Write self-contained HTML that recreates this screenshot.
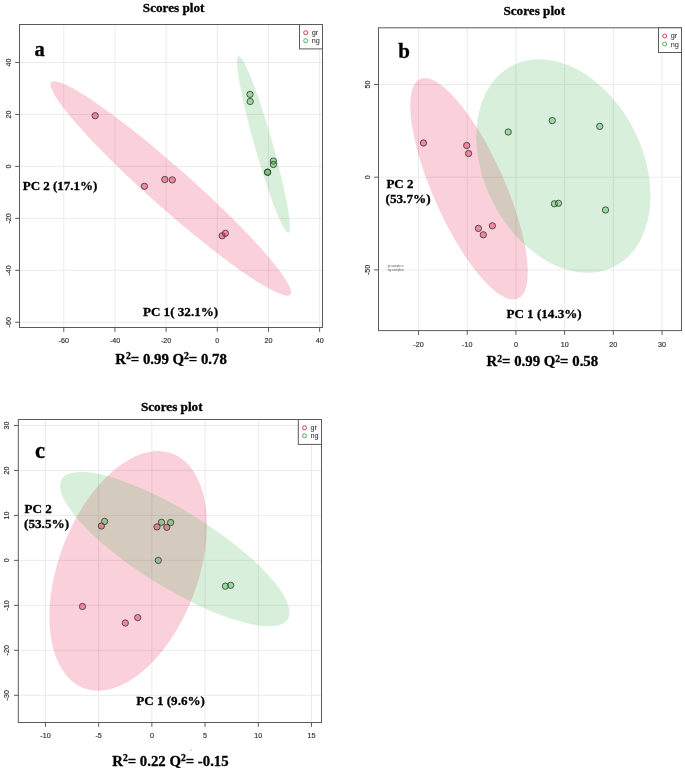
<!DOCTYPE html>
<html><head><meta charset="utf-8"><title>Scores plots</title>
<style>html,body{margin:0;padding:0;background:#fff;} svg{display:block;will-change:transform;}</style>
</head><body>
<svg width="685" height="771" viewBox="0 0 685 771">
<rect width="685" height="771" fill="#fff"/>
<line x1="63.79" y1="24.5" x2="63.79" y2="327.5" stroke="#ebebeb" stroke-width="1"/>
<line x1="114.95" y1="24.5" x2="114.95" y2="327.5" stroke="#ebebeb" stroke-width="1"/>
<line x1="166.12" y1="24.5" x2="166.12" y2="327.5" stroke="#ebebeb" stroke-width="1"/>
<line x1="217.29" y1="24.5" x2="217.29" y2="327.5" stroke="#ebebeb" stroke-width="1"/>
<line x1="268.46" y1="24.5" x2="268.46" y2="327.5" stroke="#ebebeb" stroke-width="1"/>
<line x1="319.63" y1="24.5" x2="319.63" y2="327.5" stroke="#ebebeb" stroke-width="1"/>
<line x1="19.5" y1="322.30" x2="322.5" y2="322.30" stroke="#ebebeb" stroke-width="1"/>
<line x1="19.5" y1="270.34" x2="322.5" y2="270.34" stroke="#ebebeb" stroke-width="1"/>
<line x1="19.5" y1="218.37" x2="322.5" y2="218.37" stroke="#ebebeb" stroke-width="1"/>
<line x1="19.5" y1="166.40" x2="322.5" y2="166.40" stroke="#ebebeb" stroke-width="1"/>
<line x1="19.5" y1="114.43" x2="322.5" y2="114.43" stroke="#ebebeb" stroke-width="1"/>
<line x1="19.5" y1="62.46" x2="322.5" y2="62.46" stroke="#ebebeb" stroke-width="1"/>
<ellipse cx="170.8" cy="188.45" rx="159.9" ry="20.2" transform="rotate(41.6 170.8 188.45)" fill="rgba(230,25,75,0.2)"/>
<ellipse cx="263.5" cy="144.4" rx="91.7" ry="9.0" transform="rotate(74.2 263.5 144.4)" fill="rgba(60,180,75,0.2)"/>
<circle cx="95.2" cy="115.7" r="3.15" fill="rgba(230,25,75,0.4)" stroke="#333" stroke-width="0.8"/>
<circle cx="144.4" cy="186.3" r="3.15" fill="rgba(230,25,75,0.4)" stroke="#333" stroke-width="0.8"/>
<circle cx="164.8" cy="179.5" r="3.15" fill="rgba(230,25,75,0.4)" stroke="#333" stroke-width="0.8"/>
<circle cx="172.3" cy="179.9" r="3.15" fill="rgba(230,25,75,0.4)" stroke="#333" stroke-width="0.8"/>
<circle cx="222.2" cy="235.8" r="3.15" fill="rgba(230,25,75,0.4)" stroke="#333" stroke-width="0.8"/>
<circle cx="225.4" cy="233.3" r="3.15" fill="rgba(230,25,75,0.4)" stroke="#333" stroke-width="0.8"/>
<circle cx="250.0" cy="94.4" r="3.15" fill="rgba(60,180,75,0.4)" stroke="#333" stroke-width="0.8"/>
<circle cx="250.2" cy="101.5" r="3.15" fill="rgba(60,180,75,0.4)" stroke="#333" stroke-width="0.8"/>
<circle cx="273.4" cy="161.1" r="3.15" fill="rgba(60,180,75,0.4)" stroke="#333" stroke-width="0.8"/>
<circle cx="273.4" cy="164.5" r="3.15" fill="rgba(60,180,75,0.4)" stroke="#333" stroke-width="0.8"/>
<circle cx="267.6" cy="172.2" r="3.15" fill="rgba(60,180,75,0.4)" stroke="#333" stroke-width="0.8"/>
<circle cx="267.6" cy="172.2" r="3.15" fill="rgba(60,180,75,0.4)" stroke="#333" stroke-width="0.8"/>
<rect x="19.5" y="24.5" width="303.0" height="303.0" fill="none" stroke="#5a5a5a" stroke-width="1.0"/>
<line x1="63.79" y1="327.5" x2="63.79" y2="331.8" stroke="#5a5a5a" stroke-width="1"/>
<text transform="translate(63.79 343.10) scale(0.92 1)" style="font-family:'Liberation Sans',sans-serif;font-size:7.8px;stroke:#333;stroke-width:0.18px" text-anchor="middle" fill="#333">-60</text>
<line x1="114.95" y1="327.5" x2="114.95" y2="331.8" stroke="#5a5a5a" stroke-width="1"/>
<text transform="translate(114.95 343.10) scale(0.92 1)" style="font-family:'Liberation Sans',sans-serif;font-size:7.8px;stroke:#333;stroke-width:0.18px" text-anchor="middle" fill="#333">-40</text>
<line x1="166.12" y1="327.5" x2="166.12" y2="331.8" stroke="#5a5a5a" stroke-width="1"/>
<text transform="translate(166.12 343.10) scale(0.92 1)" style="font-family:'Liberation Sans',sans-serif;font-size:7.8px;stroke:#333;stroke-width:0.18px" text-anchor="middle" fill="#333">-20</text>
<line x1="217.29" y1="327.5" x2="217.29" y2="331.8" stroke="#5a5a5a" stroke-width="1"/>
<text transform="translate(217.29 343.10) scale(0.92 1)" style="font-family:'Liberation Sans',sans-serif;font-size:7.8px;stroke:#333;stroke-width:0.18px" text-anchor="middle" fill="#333">0</text>
<line x1="268.46" y1="327.5" x2="268.46" y2="331.8" stroke="#5a5a5a" stroke-width="1"/>
<text transform="translate(268.46 343.10) scale(0.92 1)" style="font-family:'Liberation Sans',sans-serif;font-size:7.8px;stroke:#333;stroke-width:0.18px" text-anchor="middle" fill="#333">20</text>
<line x1="319.63" y1="327.5" x2="319.63" y2="331.8" stroke="#5a5a5a" stroke-width="1"/>
<text transform="translate(319.63 343.10) scale(0.92 1)" style="font-family:'Liberation Sans',sans-serif;font-size:7.8px;stroke:#333;stroke-width:0.18px" text-anchor="middle" fill="#333">40</text>
<line x1="15.2" y1="322.30" x2="19.5" y2="322.30" stroke="#5a5a5a" stroke-width="1"/>
<text transform="translate(10.50 322.30) rotate(-90) scale(0.92 1)" style="font-family:'Liberation Sans',sans-serif;font-size:7.8px;stroke:#333;stroke-width:0.18px" text-anchor="middle" fill="#333">-60</text>
<line x1="15.2" y1="270.34" x2="19.5" y2="270.34" stroke="#5a5a5a" stroke-width="1"/>
<text transform="translate(10.50 270.34) rotate(-90) scale(0.92 1)" style="font-family:'Liberation Sans',sans-serif;font-size:7.8px;stroke:#333;stroke-width:0.18px" text-anchor="middle" fill="#333">-40</text>
<line x1="15.2" y1="218.37" x2="19.5" y2="218.37" stroke="#5a5a5a" stroke-width="1"/>
<text transform="translate(10.50 218.37) rotate(-90) scale(0.92 1)" style="font-family:'Liberation Sans',sans-serif;font-size:7.8px;stroke:#333;stroke-width:0.18px" text-anchor="middle" fill="#333">-20</text>
<line x1="15.2" y1="166.40" x2="19.5" y2="166.40" stroke="#5a5a5a" stroke-width="1"/>
<text transform="translate(10.50 166.40) rotate(-90) scale(0.92 1)" style="font-family:'Liberation Sans',sans-serif;font-size:7.8px;stroke:#333;stroke-width:0.18px" text-anchor="middle" fill="#333">0</text>
<line x1="15.2" y1="114.43" x2="19.5" y2="114.43" stroke="#5a5a5a" stroke-width="1"/>
<text transform="translate(10.50 114.43) rotate(-90) scale(0.92 1)" style="font-family:'Liberation Sans',sans-serif;font-size:7.8px;stroke:#333;stroke-width:0.18px" text-anchor="middle" fill="#333">20</text>
<line x1="15.2" y1="62.46" x2="19.5" y2="62.46" stroke="#5a5a5a" stroke-width="1"/>
<text transform="translate(10.50 62.46) rotate(-90) scale(0.92 1)" style="font-family:'Liberation Sans',sans-serif;font-size:7.8px;stroke:#333;stroke-width:0.18px" text-anchor="middle" fill="#333">40</text>
<rect x="299.5" y="24.5" width="23" height="24.4" fill="#fff" stroke="#5a5a5a" stroke-width="1.0"/>
<circle cx="305.7" cy="32.7" r="2.0" fill="none" stroke="#dc3c64" stroke-width="1.0"/>
<circle cx="305.7" cy="40.7" r="2.0" fill="none" stroke="#50b45a" stroke-width="1.0"/>
<text x="311.7" y="35.1" style="font-family:'Liberation Sans',sans-serif;font-size:7.3px" text-anchor="start" fill="#222" >gr</text>
<text x="311.7" y="43.2" style="font-family:'Liberation Sans',sans-serif;font-size:7.3px" text-anchor="start" fill="#222" >ng</text>
<text x="142.8" y="11.6" style="font-family:'Liberation Serif',serif;font-weight:bold;stroke:#000;stroke-width:0.3px;font-size:13.2px" text-anchor="start" fill="#000" >Scores plot</text>
<text x="34.4" y="56.0" style="font-family:'Liberation Serif',serif;font-weight:bold;stroke:#000;stroke-width:0.3px;font-size:20.5px" text-anchor="start" fill="#000" >a</text>
<text x="22.7" y="190.0" style="font-family:'Liberation Serif',serif;font-weight:bold;stroke:#000;stroke-width:0.3px;font-size:13.0px" text-anchor="start" fill="#000" >PC 2 (17.1%)</text>
<text x="142.9" y="315.7" style="font-family:'Liberation Serif',serif;font-weight:bold;stroke:#000;stroke-width:0.3px;font-size:13.1px" text-anchor="start" fill="#000" >PC 1( 32.1%)</text>
<text x="115.3" y="364.1" style="font-family:'Liberation Serif',serif;font-weight:bold;stroke:#000;stroke-width:0.3px;font-size:14.8px" text-anchor="start" fill="#000" >R<tspan style="font-size:9.6px" dy="-4.7">2</tspan><tspan dy="4.7">= 0.99 Q</tspan><tspan style="font-size:9.6px" dy="-4.7">2</tspan><tspan dy="4.7">= 0.78</tspan></text>
<line x1="418.53" y1="27.8" x2="418.53" y2="330.6" stroke="#ebebeb" stroke-width="1"/>
<line x1="467.23" y1="27.8" x2="467.23" y2="330.6" stroke="#ebebeb" stroke-width="1"/>
<line x1="515.93" y1="27.8" x2="515.93" y2="330.6" stroke="#ebebeb" stroke-width="1"/>
<line x1="564.63" y1="27.8" x2="564.63" y2="330.6" stroke="#ebebeb" stroke-width="1"/>
<line x1="613.33" y1="27.8" x2="613.33" y2="330.6" stroke="#ebebeb" stroke-width="1"/>
<line x1="662.03" y1="27.8" x2="662.03" y2="330.6" stroke="#ebebeb" stroke-width="1"/>
<line x1="378.5" y1="269.90" x2="681.5" y2="269.90" stroke="#ebebeb" stroke-width="1"/>
<line x1="378.5" y1="177.20" x2="681.5" y2="177.20" stroke="#ebebeb" stroke-width="1"/>
<line x1="378.5" y1="84.50" x2="681.5" y2="84.50" stroke="#ebebeb" stroke-width="1"/>
<ellipse cx="469.0" cy="188.8" rx="120.2" ry="35.7" transform="rotate(66.0 469.0 188.8)" fill="rgba(230,25,75,0.2)"/>
<ellipse cx="563.4" cy="166.0" rx="112.7" ry="79.3" transform="rotate(63.2 563.4 166.0)" fill="rgba(60,180,75,0.2)"/>
<circle cx="423.5" cy="143.0" r="3.15" fill="rgba(230,25,75,0.4)" stroke="#333" stroke-width="0.8"/>
<circle cx="466.7" cy="145.5" r="3.15" fill="rgba(230,25,75,0.4)" stroke="#333" stroke-width="0.8"/>
<circle cx="468.6" cy="153.5" r="3.15" fill="rgba(230,25,75,0.4)" stroke="#333" stroke-width="0.8"/>
<circle cx="478.4" cy="228.4" r="3.15" fill="rgba(230,25,75,0.4)" stroke="#333" stroke-width="0.8"/>
<circle cx="483.3" cy="234.8" r="3.15" fill="rgba(230,25,75,0.4)" stroke="#333" stroke-width="0.8"/>
<circle cx="492.4" cy="225.8" r="3.15" fill="rgba(230,25,75,0.4)" stroke="#333" stroke-width="0.8"/>
<circle cx="508.2" cy="132.0" r="3.15" fill="rgba(60,180,75,0.4)" stroke="#333" stroke-width="0.8"/>
<circle cx="552.3" cy="120.6" r="3.15" fill="rgba(60,180,75,0.4)" stroke="#333" stroke-width="0.8"/>
<circle cx="599.7" cy="126.4" r="3.15" fill="rgba(60,180,75,0.4)" stroke="#333" stroke-width="0.8"/>
<circle cx="554.4" cy="203.8" r="3.15" fill="rgba(60,180,75,0.4)" stroke="#333" stroke-width="0.8"/>
<circle cx="558.5" cy="203.3" r="3.15" fill="rgba(60,180,75,0.4)" stroke="#333" stroke-width="0.8"/>
<circle cx="605.5" cy="210.0" r="3.15" fill="rgba(60,180,75,0.4)" stroke="#333" stroke-width="0.8"/>
<rect x="378.5" y="27.8" width="303.0" height="302.8" fill="none" stroke="#5a5a5a" stroke-width="1.0"/>
<line x1="418.53" y1="330.6" x2="418.53" y2="334.90000000000003" stroke="#5a5a5a" stroke-width="1"/>
<text transform="translate(418.53 346.60) scale(0.92 1)" style="font-family:'Liberation Sans',sans-serif;font-size:7.8px;stroke:#333;stroke-width:0.18px" text-anchor="middle" fill="#333">-20</text>
<line x1="467.23" y1="330.6" x2="467.23" y2="334.90000000000003" stroke="#5a5a5a" stroke-width="1"/>
<text transform="translate(467.23 346.60) scale(0.92 1)" style="font-family:'Liberation Sans',sans-serif;font-size:7.8px;stroke:#333;stroke-width:0.18px" text-anchor="middle" fill="#333">-10</text>
<line x1="515.93" y1="330.6" x2="515.93" y2="334.90000000000003" stroke="#5a5a5a" stroke-width="1"/>
<text transform="translate(515.93 346.60) scale(0.92 1)" style="font-family:'Liberation Sans',sans-serif;font-size:7.8px;stroke:#333;stroke-width:0.18px" text-anchor="middle" fill="#333">0</text>
<line x1="564.63" y1="330.6" x2="564.63" y2="334.90000000000003" stroke="#5a5a5a" stroke-width="1"/>
<text transform="translate(564.63 346.60) scale(0.92 1)" style="font-family:'Liberation Sans',sans-serif;font-size:7.8px;stroke:#333;stroke-width:0.18px" text-anchor="middle" fill="#333">10</text>
<line x1="613.33" y1="330.6" x2="613.33" y2="334.90000000000003" stroke="#5a5a5a" stroke-width="1"/>
<text transform="translate(613.33 346.60) scale(0.92 1)" style="font-family:'Liberation Sans',sans-serif;font-size:7.8px;stroke:#333;stroke-width:0.18px" text-anchor="middle" fill="#333">20</text>
<line x1="662.03" y1="330.6" x2="662.03" y2="334.90000000000003" stroke="#5a5a5a" stroke-width="1"/>
<text transform="translate(662.03 346.60) scale(0.92 1)" style="font-family:'Liberation Sans',sans-serif;font-size:7.8px;stroke:#333;stroke-width:0.18px" text-anchor="middle" fill="#333">30</text>
<line x1="374.2" y1="269.90" x2="378.5" y2="269.90" stroke="#5a5a5a" stroke-width="1"/>
<text transform="translate(370.10 269.90) rotate(-90) scale(0.92 1)" style="font-family:'Liberation Sans',sans-serif;font-size:7.8px;stroke:#333;stroke-width:0.18px" text-anchor="middle" fill="#333">-50</text>
<line x1="374.2" y1="177.20" x2="378.5" y2="177.20" stroke="#5a5a5a" stroke-width="1"/>
<text transform="translate(370.10 177.20) rotate(-90) scale(0.92 1)" style="font-family:'Liberation Sans',sans-serif;font-size:7.8px;stroke:#333;stroke-width:0.18px" text-anchor="middle" fill="#333">0</text>
<line x1="374.2" y1="84.50" x2="378.5" y2="84.50" stroke="#5a5a5a" stroke-width="1"/>
<text transform="translate(370.10 84.50) rotate(-90) scale(0.92 1)" style="font-family:'Liberation Sans',sans-serif;font-size:7.8px;stroke:#333;stroke-width:0.18px" text-anchor="middle" fill="#333">50</text>
<rect x="658.5" y="27.8" width="23" height="24.7" fill="#fff" stroke="#5a5a5a" stroke-width="1.0"/>
<circle cx="664.7" cy="36.0" r="2.0" fill="none" stroke="#dc3c64" stroke-width="1.0"/>
<circle cx="664.7" cy="44.0" r="2.0" fill="none" stroke="#50b45a" stroke-width="1.0"/>
<text x="670.7" y="38.4" style="font-family:'Liberation Sans',sans-serif;font-size:7.3px" text-anchor="start" fill="#222" >gr</text>
<text x="670.7" y="46.5" style="font-family:'Liberation Sans',sans-serif;font-size:7.3px" text-anchor="start" fill="#222" >ng</text>
<text x="387.8" y="266.8" style="font-family:'Liberation Sans',sans-serif;font-size:3px" fill="#555">gr.sample.n</text>
<text x="387.8" y="271.2" style="font-family:'Liberation Sans',sans-serif;font-size:3px" fill="#555">ng.sample.n</text>
<text x="503.4" y="15.3" style="font-family:'Liberation Serif',serif;font-weight:bold;stroke:#000;stroke-width:0.3px;font-size:13.2px" text-anchor="start" fill="#000" >Scores plot</text>
<text x="398.2" y="58.0" style="font-family:'Liberation Serif',serif;font-weight:bold;stroke:#000;stroke-width:0.3px;font-size:21.0px" text-anchor="start" fill="#000" >b</text>
<text x="386.4" y="188.0" style="font-family:'Liberation Serif',serif;font-weight:bold;stroke:#000;stroke-width:0.3px;font-size:13.0px" text-anchor="start" fill="#000" >PC 2</text>
<text x="385.5" y="202.6" style="font-family:'Liberation Serif',serif;font-weight:bold;stroke:#000;stroke-width:0.3px;font-size:13.2px" text-anchor="start" fill="#000" >(53.7%)</text>
<text x="506.4" y="317.8" style="font-family:'Liberation Serif',serif;font-weight:bold;stroke:#000;stroke-width:0.3px;font-size:13.1px" text-anchor="start" fill="#000" >PC 1 (14.3%)</text>
<text x="486.6" y="366.3" style="font-family:'Liberation Serif',serif;font-weight:bold;stroke:#000;stroke-width:0.3px;font-size:14.8px" text-anchor="start" fill="#000" >R<tspan style="font-size:9.6px" dy="-4.7">2</tspan><tspan dy="4.7">= 0.99 Q</tspan><tspan style="font-size:9.6px" dy="-4.7">2</tspan><tspan dy="4.7">= 0.58</tspan></text>
<line x1="45.43" y1="419.5" x2="45.43" y2="722.5" stroke="#ebebeb" stroke-width="1"/>
<line x1="98.65" y1="419.5" x2="98.65" y2="722.5" stroke="#ebebeb" stroke-width="1"/>
<line x1="151.87" y1="419.5" x2="151.87" y2="722.5" stroke="#ebebeb" stroke-width="1"/>
<line x1="205.09" y1="419.5" x2="205.09" y2="722.5" stroke="#ebebeb" stroke-width="1"/>
<line x1="258.31" y1="419.5" x2="258.31" y2="722.5" stroke="#ebebeb" stroke-width="1"/>
<line x1="311.53" y1="419.5" x2="311.53" y2="722.5" stroke="#ebebeb" stroke-width="1"/>
<line x1="18.3" y1="695.27" x2="321.5" y2="695.27" stroke="#ebebeb" stroke-width="1"/>
<line x1="18.3" y1="650.30" x2="321.5" y2="650.30" stroke="#ebebeb" stroke-width="1"/>
<line x1="18.3" y1="605.34" x2="321.5" y2="605.34" stroke="#ebebeb" stroke-width="1"/>
<line x1="18.3" y1="560.37" x2="321.5" y2="560.37" stroke="#ebebeb" stroke-width="1"/>
<line x1="18.3" y1="515.40" x2="321.5" y2="515.40" stroke="#ebebeb" stroke-width="1"/>
<line x1="18.3" y1="470.44" x2="321.5" y2="470.44" stroke="#ebebeb" stroke-width="1"/>
<line x1="18.3" y1="425.47" x2="321.5" y2="425.47" stroke="#ebebeb" stroke-width="1"/>
<ellipse cx="128.15" cy="570.9" rx="125.4" ry="69.6" transform="rotate(-69.3 128.15 570.9)" fill="rgba(230,25,75,0.2)"/>
<ellipse cx="174.8" cy="549.1" rx="133.0" ry="38.2" transform="rotate(31.8 174.8 549.1)" fill="rgba(60,180,75,0.2)"/>
<circle cx="101.4" cy="526.0" r="3.15" fill="rgba(230,25,75,0.4)" stroke="#333" stroke-width="0.8"/>
<circle cx="157.0" cy="526.9" r="3.15" fill="rgba(230,25,75,0.4)" stroke="#333" stroke-width="0.8"/>
<circle cx="166.8" cy="527.3" r="3.15" fill="rgba(230,25,75,0.4)" stroke="#333" stroke-width="0.8"/>
<circle cx="82.5" cy="606.5" r="3.15" fill="rgba(230,25,75,0.4)" stroke="#333" stroke-width="0.8"/>
<circle cx="125.3" cy="623.0" r="3.15" fill="rgba(230,25,75,0.4)" stroke="#333" stroke-width="0.8"/>
<circle cx="137.7" cy="617.6" r="3.15" fill="rgba(230,25,75,0.4)" stroke="#333" stroke-width="0.8"/>
<circle cx="104.6" cy="521.4" r="3.15" fill="rgba(60,180,75,0.4)" stroke="#333" stroke-width="0.8"/>
<circle cx="161.5" cy="522.3" r="3.15" fill="rgba(60,180,75,0.4)" stroke="#333" stroke-width="0.8"/>
<circle cx="170.6" cy="522.5" r="3.15" fill="rgba(60,180,75,0.4)" stroke="#333" stroke-width="0.8"/>
<circle cx="158.3" cy="560.4" r="3.15" fill="rgba(60,180,75,0.4)" stroke="#333" stroke-width="0.8"/>
<circle cx="225.4" cy="586.2" r="3.15" fill="rgba(60,180,75,0.4)" stroke="#333" stroke-width="0.8"/>
<circle cx="230.7" cy="585.3" r="3.15" fill="rgba(60,180,75,0.4)" stroke="#333" stroke-width="0.8"/>
<rect x="18.3" y="419.5" width="303.2" height="303.0" fill="none" stroke="#5a5a5a" stroke-width="1.0"/>
<line x1="45.43" y1="722.5" x2="45.43" y2="726.8" stroke="#5a5a5a" stroke-width="1"/>
<text transform="translate(45.43 738.40) scale(0.92 1)" style="font-family:'Liberation Sans',sans-serif;font-size:7.8px;stroke:#333;stroke-width:0.18px" text-anchor="middle" fill="#333">-10</text>
<line x1="98.65" y1="722.5" x2="98.65" y2="726.8" stroke="#5a5a5a" stroke-width="1"/>
<text transform="translate(98.65 738.40) scale(0.92 1)" style="font-family:'Liberation Sans',sans-serif;font-size:7.8px;stroke:#333;stroke-width:0.18px" text-anchor="middle" fill="#333">-5</text>
<line x1="151.87" y1="722.5" x2="151.87" y2="726.8" stroke="#5a5a5a" stroke-width="1"/>
<text transform="translate(151.87 738.40) scale(0.92 1)" style="font-family:'Liberation Sans',sans-serif;font-size:7.8px;stroke:#333;stroke-width:0.18px" text-anchor="middle" fill="#333">0</text>
<line x1="205.09" y1="722.5" x2="205.09" y2="726.8" stroke="#5a5a5a" stroke-width="1"/>
<text transform="translate(205.09 738.40) scale(0.92 1)" style="font-family:'Liberation Sans',sans-serif;font-size:7.8px;stroke:#333;stroke-width:0.18px" text-anchor="middle" fill="#333">5</text>
<line x1="258.31" y1="722.5" x2="258.31" y2="726.8" stroke="#5a5a5a" stroke-width="1"/>
<text transform="translate(258.31 738.40) scale(0.92 1)" style="font-family:'Liberation Sans',sans-serif;font-size:7.8px;stroke:#333;stroke-width:0.18px" text-anchor="middle" fill="#333">10</text>
<line x1="311.53" y1="722.5" x2="311.53" y2="726.8" stroke="#5a5a5a" stroke-width="1"/>
<text transform="translate(311.53 738.40) scale(0.92 1)" style="font-family:'Liberation Sans',sans-serif;font-size:7.8px;stroke:#333;stroke-width:0.18px" text-anchor="middle" fill="#333">15</text>
<line x1="14.0" y1="695.27" x2="18.3" y2="695.27" stroke="#5a5a5a" stroke-width="1"/>
<text transform="translate(9.10 695.27) rotate(-90) scale(0.92 1)" style="font-family:'Liberation Sans',sans-serif;font-size:7.8px;stroke:#333;stroke-width:0.18px" text-anchor="middle" fill="#333">-30</text>
<line x1="14.0" y1="650.30" x2="18.3" y2="650.30" stroke="#5a5a5a" stroke-width="1"/>
<text transform="translate(9.10 650.30) rotate(-90) scale(0.92 1)" style="font-family:'Liberation Sans',sans-serif;font-size:7.8px;stroke:#333;stroke-width:0.18px" text-anchor="middle" fill="#333">-20</text>
<line x1="14.0" y1="605.34" x2="18.3" y2="605.34" stroke="#5a5a5a" stroke-width="1"/>
<text transform="translate(9.10 605.34) rotate(-90) scale(0.92 1)" style="font-family:'Liberation Sans',sans-serif;font-size:7.8px;stroke:#333;stroke-width:0.18px" text-anchor="middle" fill="#333">-10</text>
<line x1="14.0" y1="560.37" x2="18.3" y2="560.37" stroke="#5a5a5a" stroke-width="1"/>
<text transform="translate(9.10 560.37) rotate(-90) scale(0.92 1)" style="font-family:'Liberation Sans',sans-serif;font-size:7.8px;stroke:#333;stroke-width:0.18px" text-anchor="middle" fill="#333">0</text>
<line x1="14.0" y1="515.40" x2="18.3" y2="515.40" stroke="#5a5a5a" stroke-width="1"/>
<text transform="translate(9.10 515.40) rotate(-90) scale(0.92 1)" style="font-family:'Liberation Sans',sans-serif;font-size:7.8px;stroke:#333;stroke-width:0.18px" text-anchor="middle" fill="#333">10</text>
<line x1="14.0" y1="470.44" x2="18.3" y2="470.44" stroke="#5a5a5a" stroke-width="1"/>
<text transform="translate(9.10 470.44) rotate(-90) scale(0.92 1)" style="font-family:'Liberation Sans',sans-serif;font-size:7.8px;stroke:#333;stroke-width:0.18px" text-anchor="middle" fill="#333">20</text>
<line x1="14.0" y1="425.47" x2="18.3" y2="425.47" stroke="#5a5a5a" stroke-width="1"/>
<text transform="translate(9.10 425.47) rotate(-90) scale(0.92 1)" style="font-family:'Liberation Sans',sans-serif;font-size:7.8px;stroke:#333;stroke-width:0.18px" text-anchor="middle" fill="#333">30</text>
<rect x="298.3" y="419.5" width="23.2" height="24.9" fill="#fff" stroke="#5a5a5a" stroke-width="1.0"/>
<circle cx="304.5" cy="427.7" r="2.0" fill="none" stroke="#dc3c64" stroke-width="1.0"/>
<circle cx="304.5" cy="435.7" r="2.0" fill="none" stroke="#50b45a" stroke-width="1.0"/>
<text x="310.5" y="430.1" style="font-family:'Liberation Sans',sans-serif;font-size:7.3px" text-anchor="start" fill="#222" >gr</text>
<text x="310.5" y="438.2" style="font-family:'Liberation Sans',sans-serif;font-size:7.3px" text-anchor="start" fill="#222" >ng</text>
<text x="140.9" y="411.4" style="font-family:'Liberation Serif',serif;font-weight:bold;stroke:#000;stroke-width:0.3px;font-size:13.2px" text-anchor="start" fill="#000" >Scores plot</text>
<text x="35.1" y="458.0" style="font-family:'Liberation Serif',serif;font-weight:bold;stroke:#000;stroke-width:0.3px;font-size:22.5px" text-anchor="start" fill="#000" >c</text>
<text x="24.6" y="513.4" style="font-family:'Liberation Serif',serif;font-weight:bold;stroke:#000;stroke-width:0.3px;font-size:13.0px" text-anchor="start" fill="#000" >PC 2</text>
<text x="24.0" y="528.1" style="font-family:'Liberation Serif',serif;font-weight:bold;stroke:#000;stroke-width:0.3px;font-size:13.2px" text-anchor="start" fill="#000" >(53.5%)</text>
<text x="136.2" y="705.3" style="font-family:'Liberation Serif',serif;font-weight:bold;stroke:#000;stroke-width:0.3px;font-size:13.1px" text-anchor="start" fill="#000" >PC 1 (9.6%)</text>
<text x="112.2" y="766.0" style="font-family:'Liberation Serif',serif;font-weight:bold;stroke:#000;stroke-width:0.3px;font-size:14.8px" text-anchor="start" fill="#000" >R<tspan style="font-size:9.6px" dy="-4.7">2</tspan><tspan dy="4.7">= 0.22 Q</tspan><tspan style="font-size:9.6px" dy="-4.7">2</tspan><tspan dy="4.7">= -0.15</tspan></text>
<circle cx="191.0" cy="750.1" r="0.75" fill="#aaa"/>
<circle cx="523.4" cy="18.5" r="0.6" fill="#ccc"/>
<circle cx="514.2" cy="18.5" r="0.5" fill="#e0e0e0"/>
</svg>
</body></html>
